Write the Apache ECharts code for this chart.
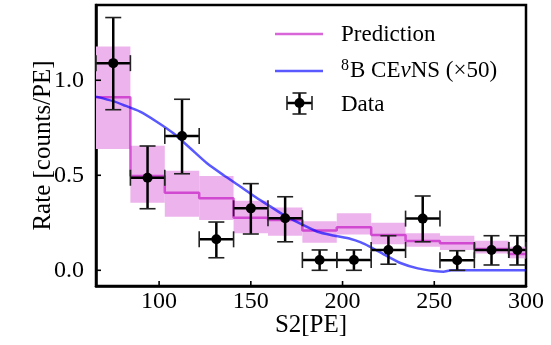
<!DOCTYPE html>
<html>
<head>
<meta charset="utf-8">
<script src="https://cdn.jsdelivr.net/npm/echarts@6/dist/echarts.min.js"></script>
<style>
html,body{margin:0;padding:0;background:#fff;}
#chart{width:551px;height:345px;}
</style>
</head>
<body>
<div id="chart"></div>
<script>
// ---- data ----
const binEdges = [65.6, 84.35, 103.1, 121.85, 140.6, 159.35, 178.1, 196.85, 215.6, 234.35, 253.1, 271.85, 290.6, 300];
const predValues = [0.91, 0.496, 0.408, 0.379, 0.276, 0.265, 0.21, 0.226, 0.186, 0.154, 0.142, 0.112, 0.086];
const predLow  = [0.638, 0.356, 0.282, 0.265, 0.195, 0.182, 0.145, 0.189, 0.137, 0.124, 0.107, 0.089, 0.063];
const predHigh = [1.177, 0.656, 0.524, 0.496, 0.366, 0.331, 0.258, 0.300, 0.250, 0.195, 0.182, 0.156, 0.124];

const dataX     = [75.0, 93.7, 112.5, 131.2, 150.0, 168.7, 187.5, 206.2, 225.0, 243.7, 262.5, 281.2, 295.3];
const dataY     = [1.09, 0.487, 0.707, 0.163, 0.326, 0.274, 0.054, 0.054, 0.107, 0.272, 0.053, 0.107, 0.107];
const dataYLow  = [0.845, 0.324, 0.508, 0.066, 0.191, 0.150, 0.0, 0.0, 0.032, 0.150, 0.0, 0.028, 0.028];
const dataYHigh = [1.33, 0.654, 0.900, 0.254, 0.456, 0.387, 0.107, 0.107, 0.182, 0.391, 0.103, 0.182, 0.182];

const cevnsX = [65.6, 75, 80.5, 89.6, 98.7, 107.8, 117, 126.1, 135.2, 144.4, 153.5, 160.8, 168, 177, 186.3, 195, 204.5, 210, 214.5, 222.7, 231.9, 241, 250, 255, 259.2, 270, 300];
const cevnsY = [0.914, 0.89, 0.87, 0.835, 0.782, 0.721, 0.642, 0.563, 0.50, 0.44, 0.379, 0.335, 0.29, 0.245, 0.203, 0.183, 0.165, 0.147, 0.126, 0.083, 0.037, 0.01, -0.004, -0.008, 0.0, 0.0, 0.0];

const xTicks = [100, 150, 200, 250, 300];
const yTicks = [0.0, 0.5, 1.0];

// ---- build ----
const FONT = 'Liberation Serif';
const MAG_LINE = 'rgba(191,0,191,0.6)';
const MAG_BAND = '#ecb3ec';
const BLUE = 'rgba(0,0,255,0.65)';

const bandData = predValues.map((v, i) => [binEdges[i], binEdges[i + 1], predLow[i], predHigh[i]]);
const stepData = predValues.map((v, i) => [binEdges[i], v]);
stepData.push([binEdges[binEdges.length - 1], predValues[predValues.length - 1]]);
const cevnsData = cevnsX.map((x, i) => [x, cevnsY[i]]);
const errData = dataX.map((x, i) => [x, dataY[i], binEdges[i], binEdges[i + 1], dataYLow[i], dataYHigh[i]]);
// tick marks placed at the axis corners: x ticks at y = axis min, y ticks at x = axis min
const X_MIN = 65.6, X_MAX = 300, Y_MIN = -0.0826, Y_MAX = 1.396;
const xTickData = xTicks.map(v => [v, Y_MIN]);
const yTickData = yTicks.map(v => [X_MIN, v]);

const chart = echarts.init(document.getElementById('chart'), null, {renderer: 'canvas'});

const TICK_LEN = 5;
const TICK_COLOR = '#000';

const option = {
  animation: false,
  backgroundColor: '#fff',
  grid: {left: 96, right: 25, top: 5, bottom: 59, show: true, borderColor: '#000', borderWidth: 2.5, backgroundColor: 'transparent'},
  xAxis: {
    type: 'value', min: X_MIN, max: X_MAX,
    name: 'S2[PE]', nameLocation: 'middle', nameGap: 27, nameMoveOverlap: false,
    nameTextStyle: {fontFamily: FONT, fontSize: 25, color: '#000'},
    axisLine: {show: true, onZero: false, lineStyle: {color: '#000', width: 2.5}},
    splitLine: {show: false},
    axisTick: {show: false},
    axisLabel: {customValues: xTicks, fontFamily: FONT, fontSize: 24, color: '#000', margin: 4, formatter: v => String(v)}
  },
  yAxis: {
    type: 'value', min: Y_MIN, max: Y_MAX,
    name: 'Rate [counts/PE]', nameLocation: 'middle', nameGap: 40, nameMoveOverlap: false,
    nameTextStyle: {fontFamily: FONT, fontSize: 25, color: '#000'},
    axisLine: {show: true, onZero: false, lineStyle: {color: '#000', width: 2.5}},
    splitLine: {show: false},
    axisTick: {show: false},
    axisLabel: {customValues: yTicks, fontFamily: FONT, fontSize: 24, color: '#000', margin: 12, formatter: v => v.toFixed(1)}
  },
  series: [
    {
      name: 'Prediction band', type: 'custom', z: 1, clip: true,
      data: bandData,
      renderItem: function (params, api) {
        const p0 = api.coord([api.value(0), api.value(3)]);
        const p1 = api.coord([api.value(1), api.value(2)]);
        return {type: 'rect', shape: {x: p0[0], y: p0[1], width: p1[0] - p0[0], height: p1[1] - p0[1]}, style: {fill: MAG_BAND}};
      }
    },
    {
      name: 'Prediction', type: 'line', step: 'end', z: 2, data: stepData,
      showSymbol: false, symbol: 'none', lineStyle: {color: MAG_LINE, width: 2.5}
    },
    {
      name: 'CEvNS', type: 'line', z: 3, data: cevnsData,
      showSymbol: false, symbol: 'none', smooth: 0.2, lineStyle: {color: BLUE, width: 2.5}
    },
    {
      name: 'Data', type: 'custom', z: 4, clip: false,
      data: errData,
      renderItem: function (params, api) {
        const c = api.coord([api.value(0), api.value(1)]);
        const xl = api.coord([api.value(2), api.value(1)])[0];
        const xh = api.coord([api.value(3), api.value(1)])[0];
        const yl = api.coord([api.value(0), api.value(4)])[1];
        const yh = api.coord([api.value(0), api.value(5)])[1];
        const cap = 8;
        const st = {stroke: '#000', lineWidth: 2.5};
        const cs = {stroke: '#222', lineWidth: 1.6};
        return {
          type: 'group',
          children: [
            {type: 'line', shape: {x1: xl, y1: c[1], x2: xh, y2: c[1]}, style: st},
            {type: 'line', shape: {x1: c[0], y1: yl, x2: c[0], y2: yh}, style: st},
            {type: 'line', shape: {x1: xl, y1: c[1] - cap, x2: xl, y2: c[1] + cap}, style: cs},
            {type: 'line', shape: {x1: xh, y1: c[1] - cap, x2: xh, y2: c[1] + cap}, style: cs},
            {type: 'line', shape: {x1: c[0] - cap, y1: yl, x2: c[0] + cap, y2: yl}, style: cs},
            {type: 'line', shape: {x1: c[0] - cap, y1: yh, x2: c[0] + cap, y2: yh}, style: cs},
            {type: 'circle', shape: {cx: c[0], cy: c[1], r: 5}, style: {fill: '#000'}}
          ]
        };
      }
    },
    {
      name: 'xTicks', type: 'custom', z: 10, clip: false, silent: true,
      data: xTickData,
      renderItem: function (params, api) {
        const p = api.coord([api.value(0), api.value(1)]);
        return {type: 'line', z2: 100, shape: {x1: p[0], y1: p[1], x2: p[0], y2: p[1] - TICK_LEN}, style: {stroke: TICK_COLOR, lineWidth: 1.6}};
      }
    },
    {
      name: 'yTicks', type: 'custom', z: 10, clip: false, silent: true,
      data: yTickData,
      renderItem: function (params, api) {
        const p = api.coord([api.value(0), api.value(1)]);
        return {type: 'line', z2: 100, shape: {x1: p[0], y1: p[1], x2: p[0] + TICK_LEN, y2: p[1]}, style: {stroke: TICK_COLOR, lineWidth: 1.6}};
      }
    }
  ],
  graphic: [
    {type: 'line', shape: {x1: 275, y1: 34, x2: 323, y2: 34}, style: {stroke: MAG_LINE, lineWidth: 2.5}},
    {type: 'text', x: 341, y: 35, style: {text: 'Prediction', fontFamily: FONT, fontSize: 23, fill: '#000', verticalAlign: 'middle'}},
    {type: 'line', shape: {x1: 275, y1: 71, x2: 323, y2: 71}, style: {stroke: BLUE, lineWidth: 2.5}},
    {type: 'text', x: 341, y: 71, style: {
      text: '{sup|8}B CE{it|ν}NS (×50)', fontFamily: FONT, fontSize: 23, fill: '#000', verticalAlign: 'middle',
      rich: {
        sup: {fontFamily: FONT, fontSize: 16, verticalAlign: 'top', padding: [0, 1, 10, 0]},
        it: {fontFamily: FONT, fontSize: 23, fontStyle: 'italic'}
      }
    }},
    {type: 'line', shape: {x1: 287, y1: 103, x2: 312, y2: 103}, style: {stroke: '#000', lineWidth: 2.5}},
    {type: 'line', shape: {x1: 299.5, y1: 93, x2: 299.5, y2: 114}, style: {stroke: '#000', lineWidth: 2.5}},
    {type: 'line', shape: {x1: 287, y1: 96, x2: 287, y2: 110}, style: {stroke: '#222', lineWidth: 1.6}},
    {type: 'line', shape: {x1: 312, y1: 96, x2: 312, y2: 110}, style: {stroke: '#222', lineWidth: 1.6}},
    {type: 'line', shape: {x1: 292.5, y1: 93, x2: 306.5, y2: 93}, style: {stroke: '#222', lineWidth: 1.6}},
    {type: 'line', shape: {x1: 292.5, y1: 114, x2: 306.5, y2: 114}, style: {stroke: '#222', lineWidth: 1.6}},
    {type: 'circle', shape: {cx: 299.5, cy: 103, r: 5}, style: {fill: '#000'}},
    {type: 'text', x: 341, y: 105, style: {text: 'Data', fontFamily: FONT, fontSize: 23, fill: '#000', verticalAlign: 'middle'}}
  ]
};
chart.setOption(option);
</script>
</body>
</html>
